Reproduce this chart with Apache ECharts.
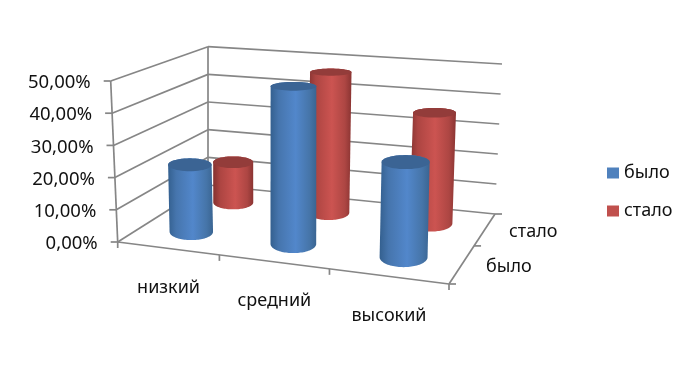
<!DOCTYPE html>
<html>
<head>
<meta charset="utf-8">
<script src="https://cdn.jsdelivr.net/npm/echarts@6/dist/echarts.min.js"></script>
<style>
  html, body { margin: 0; background: #fff; }
  #chart { width: 693px; height: 382px; }
</style>
</head>
<body>
<div id="chart"></div>
<script>
const categories = ['низкий', 'средний', 'высокий']
const depthNames = ['было', 'стало']
const byloValues = [0.21, 0.47, 0.27]
const staloValues = [0.137, 0.462, 0.352]
const valueTicks = [0, 0.1, 0.2, 0.3, 0.4, 0.5]

const FONT = '"Noto Sans", sans-serif'
const AXIS = '#868686'

// floor corners on screen: front-left, front-right, back-right, back-left
const floorQuad = [[117.7, 242], [449, 284], [495, 214], [208, 185]]
// what the top of the box adds to each corner: [lean, height]
const riseQuad = [[-7, 161], [5, 190], [7, 150], [0, 138.3]]

function homography(q) {
  const [p0, p1, p2, p3] = q
  const dx1 = p1[0] - p2[0], dx2 = p3[0] - p2[0], sx = p0[0] - p1[0] + p2[0] - p3[0]
  const dy1 = p1[1] - p2[1], dy2 = p3[1] - p2[1], sy = p0[1] - p1[1] + p2[1] - p3[1]
  const d = dx1 * dy2 - dx2 * dy1
  const g = (sx * dy2 - dx2 * sy) / d
  const h = (dx1 * sy - sx * dy1) / d
  return (u, v) => {
    const w = g * u + h * v + 1
    return [
      (p1[0] - p0[0] + g * p1[0]) * u + (p3[0] - p0[0] + h * p3[0]) * v + p0[0],
      (p1[1] - p0[1] + g * p1[1]) * u + (p3[1] - p0[1] + h * p3[1]) * v + p0[1]
    ].map(c => c / w)
  }
}
const floorAt = homography(floorQuad)

function riseAt(u, v) {
  return [0, 1].map(k =>
    (1 - v) * ((1 - u) * riseQuad[0][k] + u * riseQuad[1][k]) +
    v * ((1 - u) * riseQuad[3][k] + u * riseQuad[2][k]))
}

function project(u, v, h) {
  const a = floorAt(u, v)
  const r = riseAt(u, v)
  return [a[0] + r[0] * h, a[1] - r[1] * h]
}

// the grid holds the scales, its coordinates are normalised into the box
function toBox(params, api, cat, val) {
  const r = params.coordSys
  const c = api.coord([cat, val])
  return [(c[0] - r.x) / r.width, (r.y + r.height - c[1]) / r.height]
}

function line(a, b, width) {
  return {
    type: 'line',
    shape: { x1: a[0], y1: a[1], x2: b[0], y2: b[1] },
    style: { stroke: AXIS, lineWidth: width || 1.7 }
  }
}

function label(text, x, y, align, size) {
  return {
    type: 'text',
    style: {
      text, x, y,
      align: align || 'center', verticalAlign: 'middle',
      fontSize: size || 18, fontFamily: FONT, fill: '#111'
    }
  }
}

function ellipsePoints(cx, cy, rx, ry, from, to) {
  const pts = []
  for (let i = 0; i <= 48; i++) {
    const a = from + (to - from) * i / 48
    pts.push([cx + rx * Math.cos(a), cy + ry * Math.sin(a)])
  }
  return pts
}

function renderValueTick(params, api) {
  const val = api.value(1)
  const [, h] = toBox(params, api, 0, val)
  const fl = project(0, 0, h)
  const bl = project(0, 1, h)
  const br = project(1, 1, h)
  return {
    type: 'group',
    children: [
      line(fl, bl),
      line(bl, br),
      line([fl[0] - 7, fl[1]], fl),
      label((val * 100).toFixed(2).replace('.', ',') + '%', fl[0] - 20, fl[1] + 2, 'right', 18.5)
    ]
  }
}

function renderFrame() {
  const children = [
    line(project(0, 0, 0), project(0, 0, 1)),
    line(project(0, 1, 0), project(0, 1, 1)),
    line(project(0, 0, 0), project(1, 0, 0)),
    line(project(1, 0, 0), project(1, 1, 0))
  ]
  for (let i = 0; i <= categories.length; i++) {
    const p = project(i / categories.length, 0, 0)
    children.push(line(p, [p[0], p[1] + 6]))
  }
  for (let i = 0; i <= depthNames.length; i++) {
    const p = project(1, i / depthNames.length, 0)
    children.push(line(p, [p[0] + 7, p[1]]))
  }
  categories.forEach((name, i) => {
    const p = project((i + 0.5) / categories.length, 0, 0)
    children.push(label(name, p[0] + 1, p[1] + 39.5))
  })
  depthNames.forEach((name, i) => {
    const p = project(1, (i + 0.5) / depthNames.length, 0)
    children.push(label(name, p[0] + 24, p[1] + 3, 'left'))
  })
  return { type: 'group', children }
}

function cylinder(depth, stops, topColor) {
  return function (params, api) {
    const cat = api.value(0)
    const [u, h] = toBox(params, api, cat, api.value(1))
    const v = (depth + 0.5) / depthNames.length
    const bottom = project(u, v, 0)
    const top = project(u, v, h)
    const scale = riseAt(u, v)[1] / 165
    const rx = 22.5 * scale
    const ryAt = y => rx * (0.17 + (y - 70) / 750)
    const body = ellipsePoints(top[0], top[1], rx, ryAt(top[1]), Math.PI, 2 * Math.PI)
      .concat(ellipsePoints(bottom[0], bottom[1], rx, ryAt(bottom[1]), 0, Math.PI))
    return {
      type: 'group',
      children: [
        {
          type: 'polygon',
          shape: { points: body },
          style: {
            fill: {
              type: 'linear', x: 0, y: 0, x2: 1, y2: 0,
              colorStops: stops
            }
          }
        },
        {
          type: 'polygon',
          shape: { points: ellipsePoints(top[0], top[1], rx, ryAt(top[1]), 0, 2 * Math.PI) },
          style: { fill: topColor }
        }
      ]
    }
  }
}

const blueStops = [
  { offset: 0, color: '#34608f' }, { offset: 0.18, color: '#4675ad' },
  { offset: 0.55, color: '#5287cb' }, { offset: 0.85, color: '#4675a9' },
  { offset: 1, color: '#3a6592' }
]
const redStops = [
  { offset: 0, color: '#843230' }, { offset: 0.18, color: '#ad4542' },
  { offset: 0.55, color: '#cc5451' }, { offset: 0.85, color: '#ad4643' },
  { offset: 1, color: '#8a3432' }
]

const myChart = echarts.init(document.getElementById('chart'), null, { renderer: 'canvas' })
myChart.setOption({
  animation: false,
  color: ['#4f81bd', '#c0504d'],
  grid: { left: 100, right: 100, top: 40, bottom: 40 },
  xAxis: { type: 'category', data: categories, show: false },
  yAxis: { type: 'value', min: 0, max: 0.5, interval: 0.1, show: false },
  legend: {
    data: depthNames,
    orient: 'vertical',
    left: 602,
    top: 159,
    icon: 'rect',
    itemWidth: 12,
    itemHeight: 11,
    itemGap: 20,
    selectedMode: false,
    textStyle: { fontSize: 18, fontFamily: FONT, color: '#111' }
  },
  series: [
    {
      type: 'custom', name: 'frame', silent: true, z: 1,
      data: [[0, 0]],
      renderItem: renderFrame
    },
    {
      type: 'custom', name: 'ticks', silent: true, z: 1,
      data: valueTicks.map(t => [0, t]),
      renderItem: renderValueTick
    },
    {
      type: 'custom', name: depthNames[1], z: 2, silent: true,
      itemStyle: { color: '#c0504d' },
      data: staloValues.map((val, i) => [i, val]),
      renderItem: cylinder(1, redStops, '#933c3a')
    },
    {
      type: 'custom', name: depthNames[0], z: 3, silent: true,
      itemStyle: { color: '#4f81bd' },
      data: byloValues.map((val, i) => [i, val]),
      renderItem: cylinder(0, blueStops, '#3b6494')
    }
  ]
})
</script>
</body>
</html>
